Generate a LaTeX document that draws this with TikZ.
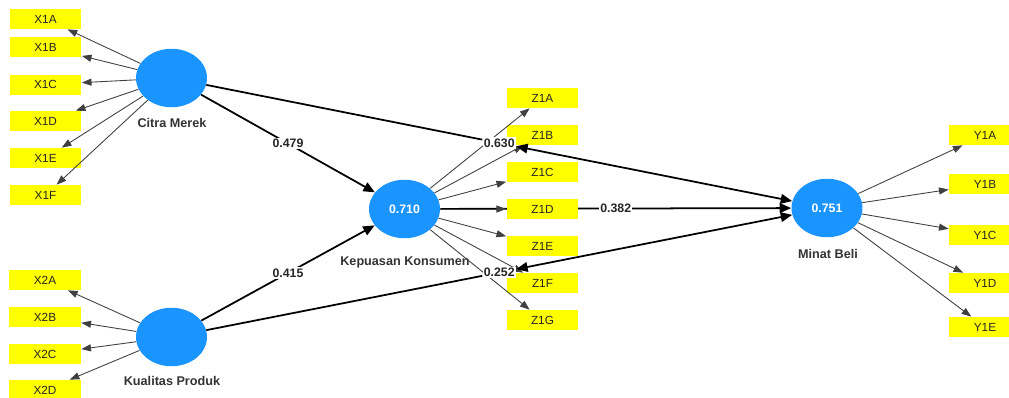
\documentclass[tikz,border=0pt]{standalone}
\usepackage{fontspec}
\setmainfont{Liberation Sans}
\usetikzlibrary{arrows.meta,shapes.geometric,backgrounds}
\definecolor{lvblue}{RGB}{26,148,255}
\definecolor{indyellow}{RGB}{255,255,0}
\begin{document}
\begin{tikzpicture}[x=0.02cm,y=-0.02cm,
 ind/.style={fill=indyellow,minimum width=1.44cm,minimum height=0.4cm,inner sep=0pt,
  text=black!85,font=\fontsize{6.7}{7}\selectfont},
 lv/.style={ellipse,fill=lvblue,minimum width=1.42cm,minimum height=1.17cm,inner sep=0pt,
  text=white,font=\bfseries\fontsize{7}{8}\selectfont},
 lvname/.style={text=black!80,font=\bfseries\fontsize{7.2}{8}\selectfont},
 lab/.style={fill=white,inner sep=0.7pt,text=black!85,font=\bfseries\fontsize{7}{8}\selectfont},
 loadarr/.style={draw=black!75,line width=0.5pt,-{Triangle[length=5.5pt,width=4pt]}},
 coef/.style={draw=black,line width=1pt,-{Triangle[length=6.5pt,width=5.5pt]}},
 coefboth/.style={coef,{Triangle[length=6.5pt,width=5.5pt]}-{Triangle[length=6.5pt,width=5.5pt]}}]
\useasboundingbox (0,0) rectangle (1009,397);
\clip (0,0) rectangle (1009,397);
% latent variables
\node[lv] (cm) at (171.5,78) {};
\node[lv] (kp) at (171.5,337) {};
\node[lv] (kk) at (404.5,209) {0.710};
\node[lv] (mb) at (827,208) {0.751};
\node[lvname] (ncm) at (172,123) {Citra Merek};
\node[lvname] (nkp) at (172,381) {Kualitas Produk};
\node[lvname] (nkk) at (405,262) {Kepuasan Konsumen};
\node[lvname] (nmb) at (828,254) {Minat Beli};
% indicators
\node[ind] (x1a) at (45.5,19) {X1A};
\node[ind] (x1b) at (45.5,47) {X1B};
\node[ind] (x1c) at (45.5,84.5) {X1C};
\node[ind] (x1d) at (45.5,121) {X1D};
\node[ind] (x1e) at (45.5,158) {X1E};
\node[ind] (x1f) at (45.5,195) {X1F};
\node[ind] (x2a) at (45,280) {X2A};
\node[ind] (x2b) at (45,317) {X2B};
\node[ind] (x2c) at (45,354) {X2C};
\node[ind] (x2d) at (45,390) {X2D};
\node[ind] (z1a) at (542.5,98) {Z1A};
\node[ind] (z1b) at (542.5,135) {Z1B};
\node[ind] (z1c) at (542.5,172) {Z1C};
\node[ind] (z1d) at (542.5,209) {Z1D};
\node[ind] (z1e) at (542.5,246) {Z1E};
\node[ind] (z1f) at (542.5,283) {Z1F};
\node[ind] (z1g) at (542.5,320) {Z1G};
\node[ind] (y1a) at (985,135) {Y1A};
\node[ind] (y1b) at (985,184) {Y1B};
\node[ind] (y1c) at (985,235) {Y1C};
\node[ind] (y1d) at (985,283) {Y1D};
\node[ind] (y1e) at (985,327) {Y1E};
% outer loadings
\draw[loadarr] (cm) -- (x1a);
\draw[loadarr] (cm) -- (x1b);
\draw[loadarr] (cm) -- (x1c);
\draw[loadarr] (cm) -- (x1d);
\draw[loadarr] (cm) -- (x1e);
\draw[loadarr] (cm) -- (x1f);
\draw[loadarr] (kp) -- (x2a);
\draw[loadarr] (kp) -- (x2b);
\draw[loadarr] (kp) -- (x2c);
\draw[loadarr] (kp) -- (x2d);
\draw[loadarr] (kk) -- (z1a);
\draw[loadarr] (kk) -- (z1b);
\draw[loadarr] (kk) -- (z1c);
\draw[loadarr] (kk) -- (z1d);
\draw[loadarr] (kk) -- (z1e);
\draw[loadarr] (kk) -- (z1f);
\draw[loadarr] (kk) -- (z1g);
\draw[loadarr] (mb) -- (y1a);
\draw[loadarr] (mb) -- (y1b);
\draw[loadarr] (mb) -- (y1c);
\draw[loadarr] (mb) -- (y1d);
\draw[loadarr] (mb) -- (y1e);
% inner model
\begin{pgfonlayer}{background}
\draw[coef] (kk) -- node[lab] (l382) {0.382} (mb);
\end{pgfonlayer}
\draw[coef] (cm) -- node[lab] (l479) {0.479} (kk);
\draw[coef] (kp) -- node[lab] (l415) {0.415} (kk);
\path (cm) -- node[lab] (l630) {0.630} (mb);
\draw[coef,-] (cm) -- (l630);
\draw[coefboth] (l630) -- (mb);
\path (kp) -- node[lab] (l252) {0.252} (mb);
\draw[coef,-] (kp) -- (l252);
\draw[coefboth] (l252) -- (mb);
\end{tikzpicture}
\end{document}
